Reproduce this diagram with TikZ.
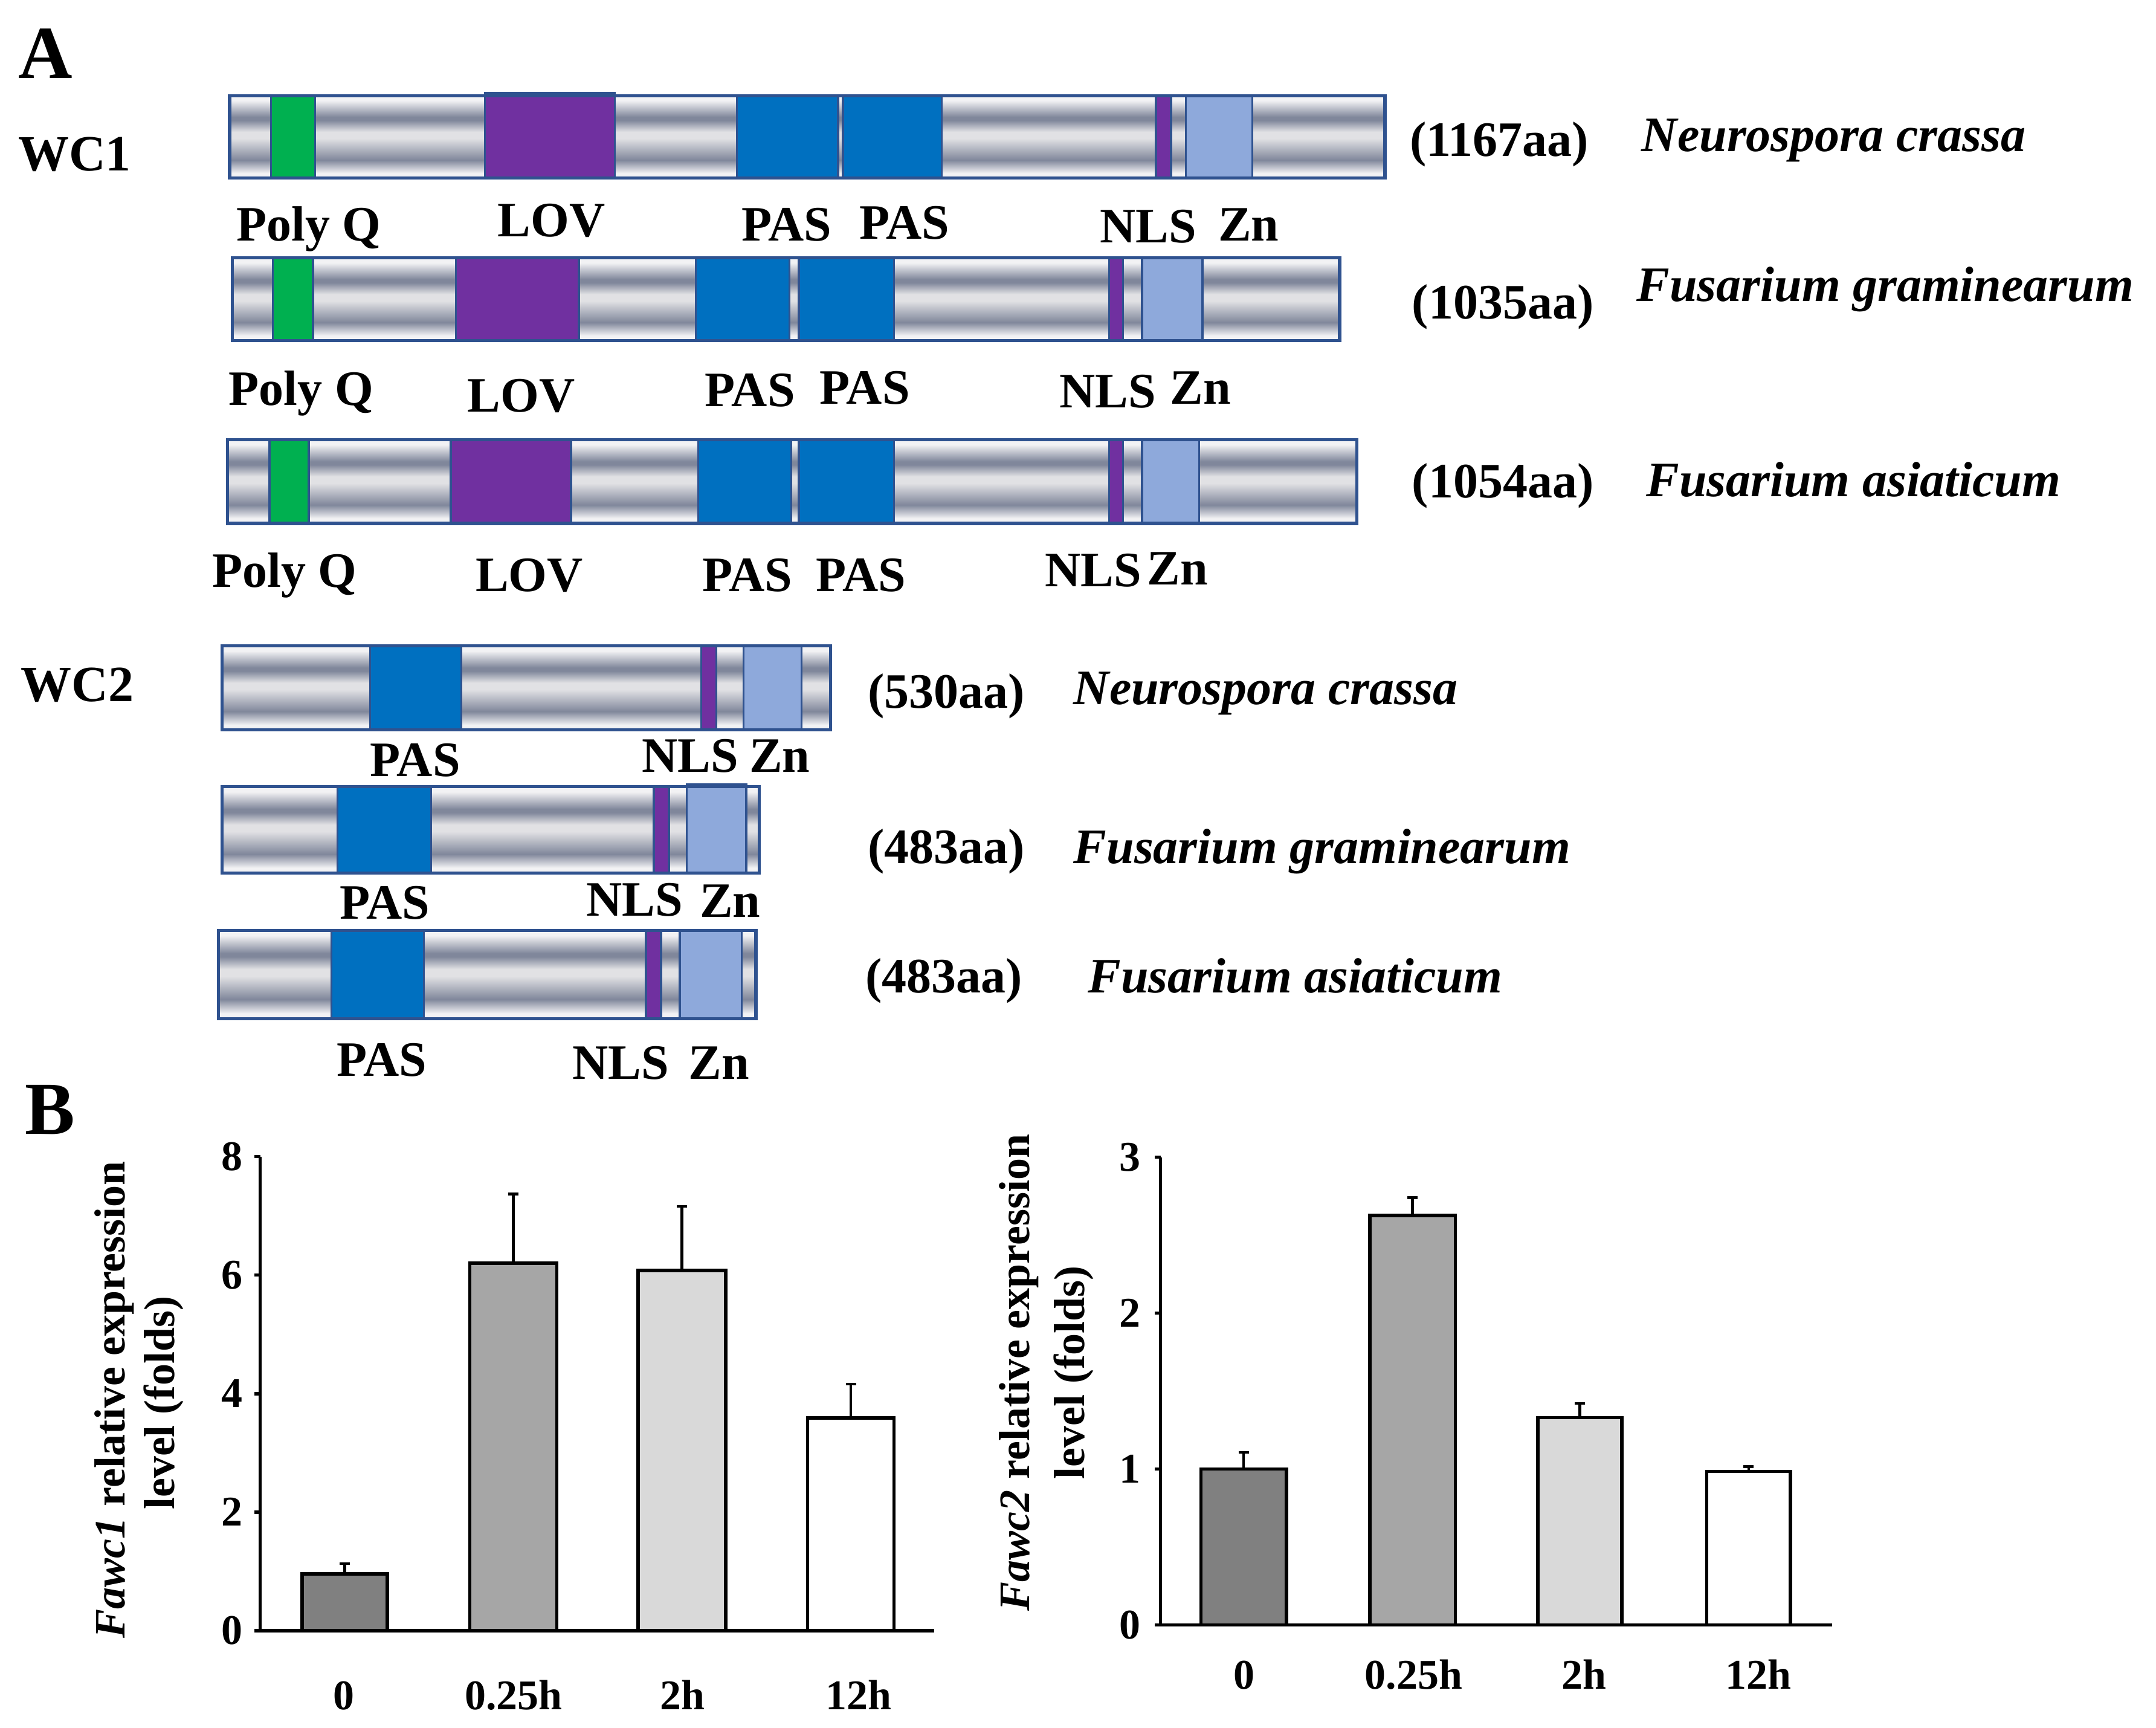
\documentclass[tikz,border=0pt]{standalone}
\usepackage{fontspec}
\setmainfont{Liberation Serif}
\definecolor{mlight}{RGB}{242,242,244}
\definecolor{mmid}{RGB}{225,225,228}
\definecolor{mdark}{RGB}{128,135,155}
\definecolor{bord}{RGB}{47,82,143}
\definecolor{dgreen}{RGB}{0,176,80}
\definecolor{dpurple}{RGB}{112,48,160}
\definecolor{dblue}{RGB}{0,112,192}
\definecolor{dlblue}{RGB}{142,169,219}
\definecolor{barA}{RGB}{128,128,128}
\definecolor{barB}{RGB}{166,166,166}
\definecolor{barC}{RGB}{217,217,217}
\pgfdeclareverticalshading{metal}{100bp}{color(0bp)=(mlight); color(25bp)=(mlight); color(28bp)=(mlight); color(36bp)=(mdark); color(49bp)=(mmid); color(53bp)=(mmid); color(60bp)=(mdark); color(62bp)=(mdark); color(72bp)=(mlight); color(75bp)=(mlight); color(100bp)=(mlight)}
\newcommand\protbar[4]{\shade[shading=metal] (#1,#2) rectangle (#3,#4);}
\newcommand\dombox[5]{\filldraw[fill=#5,draw=bord,line width=0.8pt] (#1,#3) rectangle (#2,#4);}
\newcommand\barframe[4]{\draw[bord,line width=1.3pt] (#1,#2) rectangle (#3,#4);}
\newcommand\domlab{\fontsize{20.5}{24}\selectfont\bfseries}
\newcommand\chartfont{\fontsize{17.5}{21}\selectfont\bfseries}
\tikzset{
  dl/.style={anchor=base,inner sep=0pt,font=\domlab},
  aal/.style={anchor=base west,inner sep=0pt,font=\domlab},
  spl/.style={anchor=base west,inner sep=0pt,font=\domlab\itshape},
  panel/.style={anchor=base west,inner sep=0pt,font=\fontsize{31}{36}\selectfont\bfseries},
  wcl/.style={anchor=base west,inner sep=0pt,font=\fontsize{21}{25}\selectfont\bfseries},
  tickl/.style={anchor=east,inner sep=0pt,font=\chartfont},
  catl/.style={anchor=base,inner sep=0pt,font=\chartfont},
  ylab/.style={rotate=90,anchor=center,inner sep=0pt,font=\fontsize{18}{21}\selectfont\bfseries},
  cbar/.style={draw=black,line width=1.4pt},
  axisl/.style={draw=black,line width=1.4pt},
  errl/.style={draw=black,line width=1.1pt}
}
\begin{document}
\begin{tikzpicture}[x=0.02cm,y=-0.02cm]
\useasboundingbox (0,0) rectangle (1568,1256);
% ---------- Panel A labels
\node[panel] (labA) at (13,57) {A};
\node[wcl] (wc1) at (13,124) {WC1};
\node[wcl] (wc2) at (15,510) {WC2};
% ---------- WC1 bar 1 (N. crassa)
\protbar{167}{69.5}{1007.2}{129.6}
\dombox{197}{229}{69.5}{129.6}{dgreen}
\dombox{352.5}{447}{67.7}{129.6}{dpurple}
\dombox{536}{609.5}{69.5}{129.6}{dblue}
\dombox{613}{685}{69.5}{129.6}{dblue}
\dombox{840.7}{851.7}{69.5}{129.6}{dpurple}
\dombox{862.6}{910.6}{69.5}{129.6}{dlblue}
\barframe{167}{69.5}{1007.2}{129.6}
\node[dl] (a1pq) at (224.5,175) {Poly Q};
\node[dl] (a1lov) at (401,172) {LOV};
\node[dl] (a1pas1) at (572,175) {PAS};
\node[dl] (a1pas2) at (657.6,173.6) {PAS};
\node[dl] (a1nls) at (835,176.6) {NLS};
\node[dl] (a1zn) at (908,175) {Zn};
\node[aal] (a1aa) at (1025,113.8) {(1167aa)};
\node[spl] (a1sp) at (1193.6,110) {Neurospora crassa};
% ---------- WC1 bar 2 (F. graminearum)
\protbar{169}{187.5}{974.3}{247.7}
\dombox{198.4}{227.6}{187.5}{247.7}{dgreen}
\dombox{331.4}{421}{187.5}{247.7}{dpurple}
\dombox{506}{574}{187.5}{247.7}{dblue}
\dombox{581}{650}{187.5}{247.7}{dblue}
\dombox{806.5}{816.6}{187.5}{247.7}{dpurple}
\dombox{830.6}{874.5}{187.5}{247.7}{dlblue}
\barframe{169}{187.5}{974.3}{247.7}
\node[dl] (a2pq) at (219,294.8) {Poly Q};
\node[dl] (a2lov) at (379,299.7) {LOV};
\node[dl] (a2pas1) at (545.5,295.7) {PAS};
\node[dl] (a2pas2) at (629,294) {PAS};
\node[dl] (a2nls) at (805.6,296.5) {NLS};
\node[dl] (a2zn) at (873,294) {Zn};
\node[aal] (a2aa) at (1026.6,231.6) {(1035aa)};
\node[spl] (a2sp) at (1190,218.9) {Fusarium graminearum};
% ---------- WC1 bar 3 (F. asiaticum)
\protbar{165.5}{319.7}{986.9}{380.6}
\dombox{196}{224.6}{319.7}{380.6}{dgreen}
\dombox{327.8}{415.3}{319.7}{380.6}{dpurple}
\dombox{507.8}{575.3}{319.7}{380.6}{dblue}
\dombox{581}{650}{319.7}{380.6}{dblue}
\dombox{806.5}{816.6}{319.7}{380.6}{dpurple}
\dombox{830.6}{872}{319.7}{380.6}{dlblue}
\barframe{165.5}{319.7}{986.9}{380.6}
\node[dl] (a3pq) at (207,426.8) {Poly Q};
\node[dl] (a3lov) at (385,430) {LOV};
\node[dl] (a3pas1) at (543.5,430) {PAS};
\node[dl] (a3pas2) at (626,430) {PAS};
\node[dl] (a3nls) at (795,426.7) {NLS};
\node[dl] (a3zn) at (856.5,425) {Zn};
\node[aal] (a3aa) at (1026.6,362) {(1054aa)};
\node[spl] (a3sp) at (1197,361) {Fusarium asiaticum};
% ---------- WC2 bar 1
\protbar{161.5}{469.6}{604}{530.8}
\dombox{269}{335.5}{469.6}{530.8}{dblue}
\dombox{510}{521}{469.6}{530.8}{dpurple}
\dombox{540.6}{583}{469.6}{530.8}{dlblue}
\barframe{161.5}{469.6}{604}{530.8}
\node[dl] (b1pas) at (302,564.7) {PAS};
\node[dl] (b1nls) at (502,561.5) {NLS};
\node[dl] (b1zn) at (567,561.5) {Zn};
\node[aal] (b1aa) at (631,515) {(530aa)};
\node[spl] (b1sp) at (780.5,512.4) {Neurospora crassa};
% ---------- WC2 bar 2
\protbar{161.5}{572}{552}{634.8}
\dombox{245.5}{313.4}{572}{634.8}{dblue}
\dombox{475.5}{486.5}{572}{634.8}{dpurple}
\dombox{499.5}{542.7}{570.4}{634.8}{dlblue}
\barframe{161.5}{572}{552}{634.8}
\node[dl] (b2pas) at (280,668) {PAS};
\node[dl] (b2nls) at (461.4,665.8) {NLS};
\node[dl] (b2zn) at (531,667) {Zn};
\node[aal] (b2aa) at (631,627.6) {(483aa)};
\node[spl] (b2sp) at (780.5,627.6) {Fusarium graminearum};
% ---------- WC2 bar 3
\protbar{158.7}{676.4}{549.8}{740.8}
\dombox{241}{308.4}{676.4}{740.8}{dblue}
\dombox{469.8}{480.8}{676.4}{740.8}{dpurple}
\dombox{494.4}{539.5}{676.4}{740.8}{dlblue}
\barframe{158.7}{676.4}{549.8}{740.8}
\node[dl] (b3pas) at (277.7,782.4) {PAS};
\node[dl] (b3nls) at (451.4,784.6) {NLS};
\node[dl] (b3zn) at (522.8,784.6) {Zn};
\node[aal] (b3aa) at (629,721.9) {(483aa)};
\node[spl] (b3sp) at (791,721.9) {Fusarium asiaticum};
% ---------- Panel B
\node[panel] (labB) at (18,824.5) {B};
% Chart 1: origin (189.2,1185.6), 43.08 per unit
\filldraw[cbar,fill=barA] (219.7,1185.6) rectangle (281.7,{1185.6-0.96*43.08});
\filldraw[cbar,fill=barB] (341.7,1185.6) rectangle (405,{1185.6-6.2*43.08});
\filldraw[cbar,fill=barC] (464,1185.6) rectangle (527.8,{1185.6-6.08*43.08});
\filldraw[cbar,fill=white] (587.4,1185.6) rectangle (650.2,{1185.6-3.59*43.08});
\draw[errl] (250.7,{1185.6-0.96*43.08}) -- (250.7,{1185.6-1.13*43.08}) (247,{1185.6-1.13*43.08}) -- (254.4,{1185.6-1.13*43.08});
\draw[errl] (373.35,{1185.6-6.2*43.08}) -- (373.35,{1185.6-7.37*43.08}) (369.6,{1185.6-7.37*43.08}) -- (377.1,{1185.6-7.37*43.08});
\draw[errl] (495.9,{1185.6-6.08*43.08}) -- (495.9,{1185.6-7.16*43.08}) (492.2,{1185.6-7.16*43.08}) -- (499.6,{1185.6-7.16*43.08});
\draw[errl] (618.8,{1185.6-3.59*43.08}) -- (618.8,{1185.6-4.16*43.08}) (615.1,{1185.6-4.16*43.08}) -- (622.5,{1185.6-4.16*43.08});
\draw[axisl] (189.2,841) -- (189.2,1185.6) -- (679.4,1185.6);
\foreach \v in {0,2,4,6,8}{
  \draw[axisl] (185,{1185.6-\v*43.08}) -- (189.2,{1185.6-\v*43.08});
  \node[tickl] (t1\v) at (177,{1185.6-\v*43.08}) {\v};
}
\node[catl] (c1a) at (250,1243) {0};
\node[catl] (c1b) at (373.6,1243) {0.25h};
\node[catl] (c1c) at (496.4,1243) {2h};
\node[catl] (c1d) at (624.6,1243) {12h};
\node[ylab] (y1a) at (83,1017.6) {\textit{Fawc1} relative expression};
\node[ylab] (y1b) at (118.8,1020) {level (folds)};
% Chart 2: origin (844,1181.5), 113.4 per unit
\filldraw[cbar,fill=barA] (873.4,1181.5) rectangle (935.6,{1181.5-1.0*113.4});
\filldraw[cbar,fill=barB] (996.2,1181.5) rectangle (1058.4,{1181.5-2.626*113.4});
\filldraw[cbar,fill=barC] (1118.5,1181.5) rectangle (1179.5,{1181.5-1.329*113.4});
\filldraw[cbar,fill=white] (1241.3,1181.5) rectangle (1302.2,{1181.5-0.985*113.4});
\draw[errl] (904.5,{1181.5-1.0*113.4}) -- (904.5,{1181.5-1.107*113.4}) (900.8,{1181.5-1.107*113.4}) -- (908.2,{1181.5-1.107*113.4});
\draw[errl] (1027.3,{1181.5-2.626*113.4}) -- (1027.3,{1181.5-2.74*113.4}) (1023.6,{1181.5-2.74*113.4}) -- (1031,{1181.5-2.74*113.4});
\draw[errl] (1149,{1181.5-1.329*113.4}) -- (1149,{1181.5-1.42*113.4}) (1145.3,{1181.5-1.42*113.4}) -- (1152.7,{1181.5-1.42*113.4});
\draw[errl] (1271.75,{1181.5-0.985*113.4}) -- (1271.75,{1181.5-1.016*113.4}) (1268,{1181.5-1.016*113.4}) -- (1275.5,{1181.5-1.016*113.4});
\draw[axisl] (844,841.4) -- (844,1181.5) -- (1332.5,1181.5);
\foreach \v in {0,1,2,3}{
  \draw[axisl] (840,{1181.5-\v*113.4}) -- (844,{1181.5-\v*113.4});
  \node[tickl] (t2\v) at (830,{1181.5-\v*113.4}) {\v};
}
\node[catl] (c2a) at (905,1228) {0};
\node[catl] (c2b) at (1028,1228) {0.25h};
\node[catl] (c2c) at (1152,1228) {2h};
\node[catl] (c2d) at (1279,1228) {12h};
\node[ylab] (y2a) at (741,998) {\textit{Fawc2} relative expression};
\node[ylab] (y2b) at (781,998) {level (folds)};
\end{tikzpicture}
\end{document}
